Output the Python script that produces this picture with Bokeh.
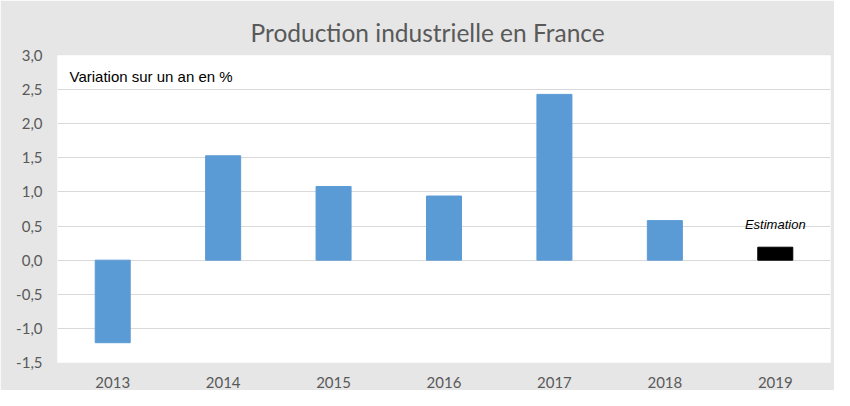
from bokeh.plotting import figure
from bokeh.models import FactorRange, Range1d, FixedTicker, CustomJSTickFormatter, Label, ColumnDataSource
from bokeh.core.properties import value
from bokeh.embed import file_html
from bokeh.resources import INLINE

years = ["2013", "2014", "2015", "2016", "2017", "2018", "2019"]
values = [-1.21, 1.53, 1.08, 0.94, 2.43, 0.58, 0.19]
bar_colors = ["#5b9bd5"] * 6 + ["#000000"]
y_ticks = [-1.5, -1.0, -0.5, 0.0, 0.5, 1.0, 1.5, 2.0, 2.5, 3.0]
title_text = "Production industrielle en France"
subtitle_text = "Variation sur un an en %"
note_x = ["2019"]
note_y = [0.52]
note_text = ["Estimation"]

W, H = 834, 390
p = figure(width=W, height=H, x_range=FactorRange(*years), y_range=Range1d(-1.5, 3.0),
           output_backend="svg", toolbar_location=None,
           min_border_left=57, min_border_right=4, min_border_top=55, min_border_bottom=28)
p.border_fill_color = "#e6e6e6"
p.background_fill_color = "#ffffff"
p.outline_line_color = None

p.title.text = title_text
p.title.align = "left"
p.title.text_font = "Lato"
p.title.text_font_size = "24.5px"
p.title.text_font_style = "normal"
p.title.text_color = "#595959"
p.title.standoff = 17
p.title.offset = 193

src = ColumnDataSource(dict(x=years, top=values, color=bar_colors))
p.vbar(x="x", top="top", width=0.317, color="color", source=src)

# grid
p.xgrid.grid_line_color = None
p.ygrid.ticker = FixedTicker(ticks=y_ticks)
p.ygrid.grid_line_color = "#d9d9d9"
p.ygrid.grid_line_width = 1

# axes
p.yaxis.ticker = FixedTicker(ticks=y_ticks)
p.yaxis.formatter = CustomJSTickFormatter(code="return tick.toFixed(1).replace('.', ',');")
for ax in (p.xaxis, p.yaxis):
    ax.axis_line_color = None
    ax.major_tick_line_color = None
    ax.minor_tick_line_color = None
    ax.major_tick_in = 0
    ax.major_tick_out = 0
    ax.major_label_text_font = "Lato"
    ax.major_label_text_font_size = "15px"
    ax.major_label_text_color = "#595959"
p.yaxis.major_label_standoff = 15
p.xaxis.major_label_standoff = 14

p.add_layout(Label(x=12, y=286, x_units="screen", y_units="screen", text=subtitle_text,
                   text_font="Liberation Sans", text_font_size="15px", text_color="#000000",
                   text_baseline="middle", text_align="left"))

nsrc = ColumnDataSource(dict(x=note_x, y=note_y, t=note_text))
p.text(x="x", y="y", text="t", source=nsrc, text_font=value("Liberation Sans"),
       text_font_size="13px", text_font_style="italic", text_color="#000000",
       text_align="center", text_baseline="middle")

open("out.html", "w").write(file_html(p, INLINE))
